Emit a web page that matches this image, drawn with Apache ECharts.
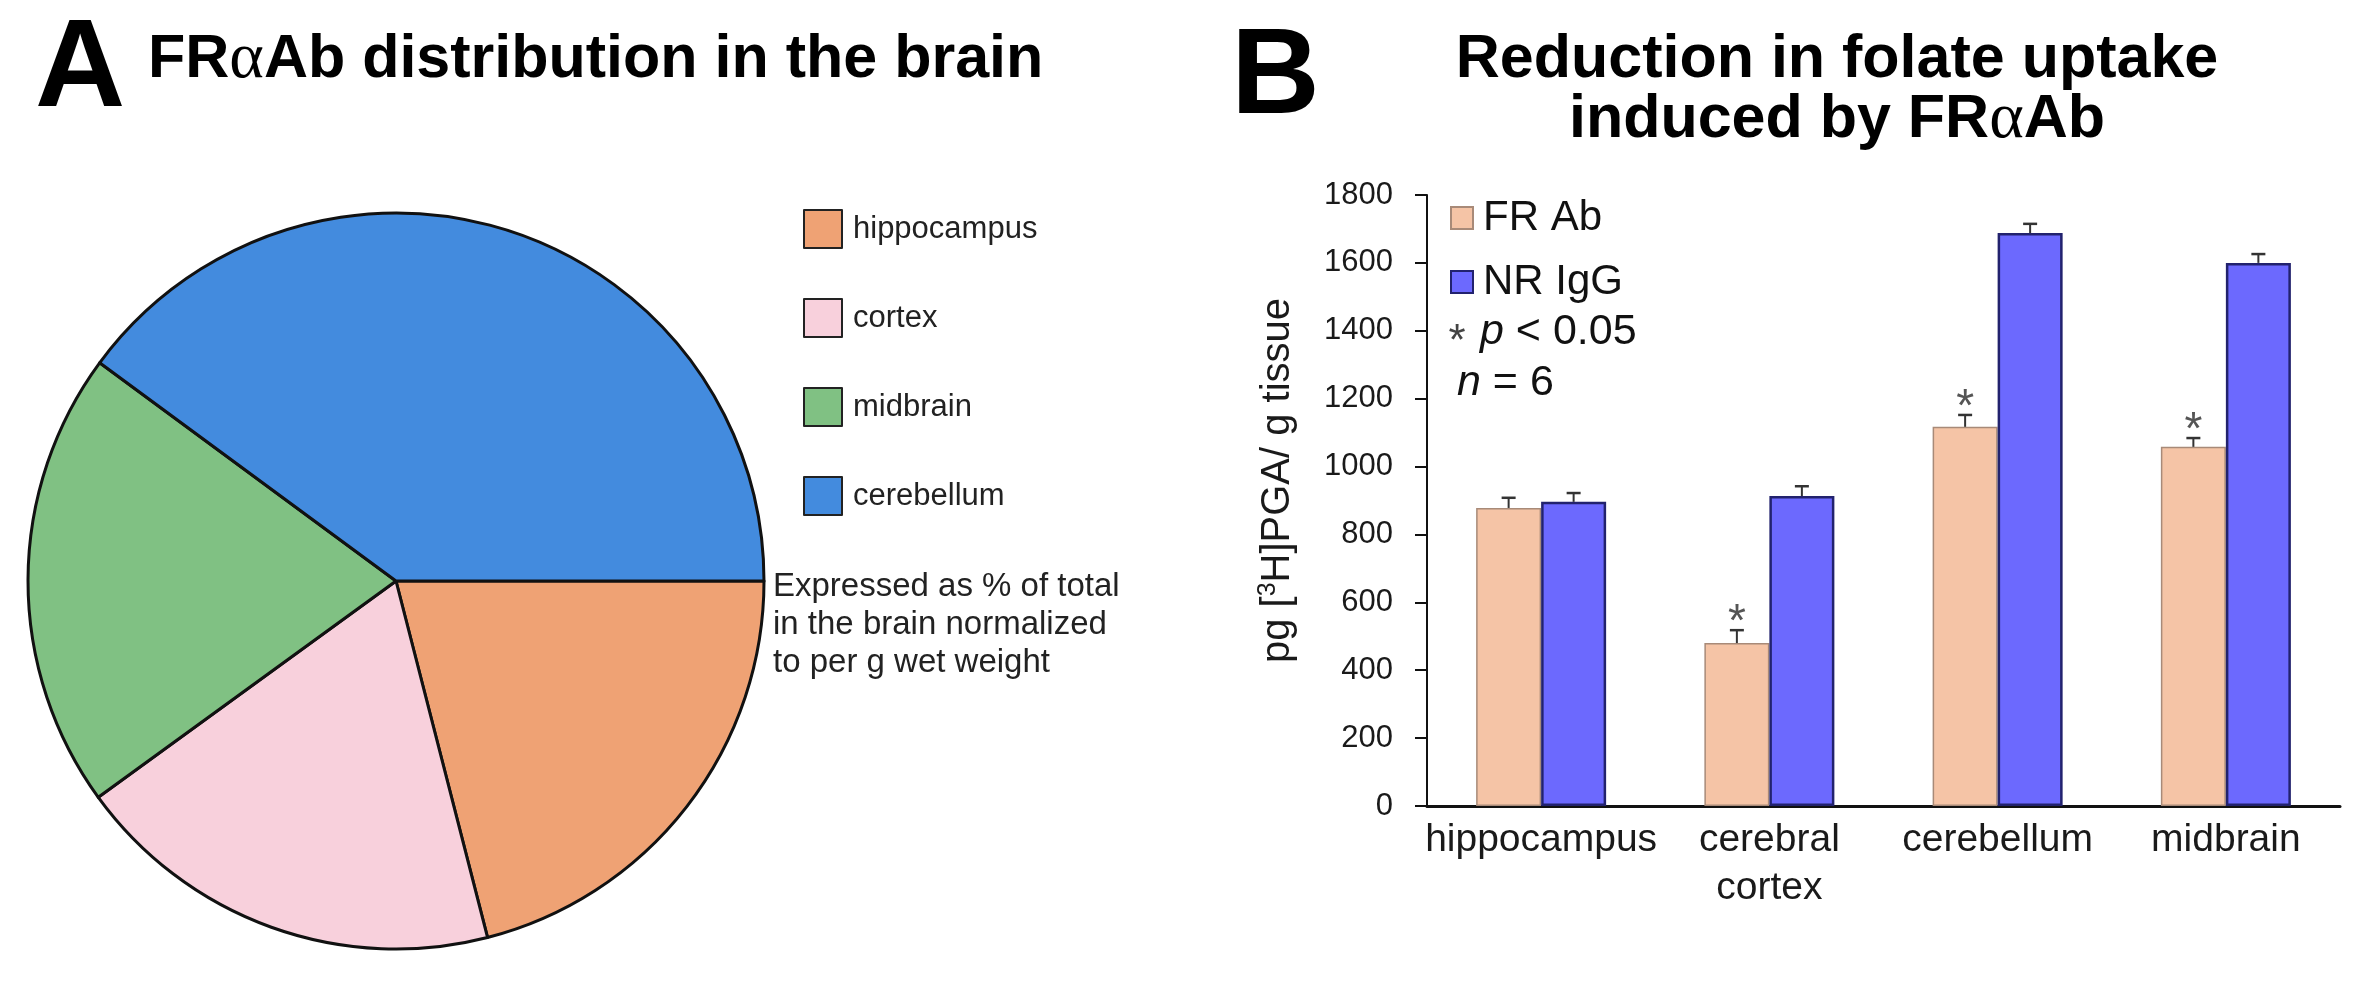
<!DOCTYPE html>
<html><head><meta charset="utf-8">
<script src="https://cdn.jsdelivr.net/npm/echarts@6/dist/echarts.min.js"></script>
<style>html,body{margin:0;padding:0;background:#fff}#c{width:2365px;height:981px}</style>
</head><body><div id="c"></div>
<script>
// ---- Panel A data (pie) ----
const pieNames = ['hippocampus', 'cortex', 'midbrain', 'cerebellum'];
const pieValues = [21.0, 19.0, 20.1, 39.9];
const pieColors = ['#EFA274', '#F8D0DC', '#80C183', '#438BDE'];

// ---- Panel B data (bars) ----
const categories = ['hippocampus', 'cerebral\ncortex', 'cerebellum', 'midbrain'];
const seriesNames = ['FR Ab', 'NR IgG'];
const frAb = [878, 480, 1117, 1058];
const nrIgG = [896, 913, 1688, 1600];
const frErr = [30, 38, 35, 26];
const nrErr = [26, 29, 27, 26];
const significant = [false, true, true, true];
const yMin = 0, yMax = 1800, yInterval = 200;

const FONT = '"Liberation Sans", Arial, Helvetica, sans-serif';
const SERIF = '"Liberation Serif", "Times New Roman", serif';
const BAR_W = 65;

const chart = echarts.init(document.getElementById('c'), null, {renderer: 'canvas'});

function errRender(offset) {
  return function (params, api) {
    const i = api.value(0), v = api.value(1), e = api.value(2), s = api.value(3);
    const base = api.coord([i, v]);
    const top = api.coord([i, v + e]);
    const x = base[0] + offset;
    const children = [
      {type: 'line', shape: {x1: x, y1: base[1], x2: x, y2: top[1]}, style: {stroke: '#333', lineWidth: 2}},
      {type: 'line', shape: {x1: x - 7, y1: top[1], x2: x + 7, y2: top[1]}, style: {stroke: '#333', lineWidth: 2.5}}
    ];
    if (s) {
      children.push({type: 'text', style: {text: '*', x: x, y: top[1] - 7, fontSize: 46, fontFamily: FONT,
        fill: '#555', align: 'center', verticalAlign: 'middle'}});
    }
    return {type: 'group', children: children};
  };
}

const option = {
  backgroundColor: '#ffffff',
  animation: false,
  textStyle: {fontFamily: FONT},
  legend: [
    {
      data: pieNames, orient: 'vertical', left: 798, top: 204,
      itemWidth: 38, itemHeight: 38, itemGap: 49, icon: 'rect', selectedMode: false,
      itemStyle: {borderWidth: 2, borderColor: '#222'},
      textStyle: {fontSize: 31, color: '#222', fontFamily: FONT, padding: [0, 0, 0, 6]}
    },
    {
      data: seriesNames, orient: 'vertical', left: 1445, top: 192,
      itemWidth: 22, itemHeight: 22, itemGap: 22, icon: 'rect', selectedMode: false,
      textStyle: {fontSize: 42, lineHeight: 42, color: '#111', fontFamily: FONT, padding: [0, 0, 0, 5]}
    }
  ],
  grid: {left: 1427, right: 25, top: 195, bottom: 175},
  xAxis: {
    type: 'category', data: categories,
    axisLine: {lineStyle: {color: '#111', width: 3}},
    axisTick: {show: false},
    axisLabel: {interval: 0, fontSize: 39, lineHeight: 48, margin: 10, color: '#1a1a1a', fontFamily: FONT}
  },
  yAxis: {
    type: 'value', min: yMin, max: yMax, interval: yInterval,
    axisLine: {show: true, lineStyle: {color: '#111', width: 2}},
    axisTick: {show: true, inside: false, length: 12, lineStyle: {color: '#111', width: 2}},
    splitLine: {show: false},
    axisLabel: {fontSize: 31, margin: 34, color: '#1a1a1a', fontFamily: FONT, formatter: v => String(v)},
    name: 'pg [{sup|3}H]PGA/ g tissue',
    nameLocation: 'middle', nameGap: 127, nameRotate: 90,
    nameTextStyle: {fontSize: 40, lineHeight: 44, color: '#1a1a1a', fontFamily: FONT, padding: [0, 0, 0, 40],
      rich: {sup: {fontSize: 25, verticalAlign: 'top', fontFamily: FONT, color: '#1a1a1a'}}}
  },
  series: [
    {
      type: 'pie', center: [396, 581], radius: 368, startAngle: 0, clockwise: true,
      silent: true, label: {show: false}, labelLine: {show: false},
      emphasis: {disabled: true},
      itemStyle: {borderColor: '#111', borderWidth: 3},
      data: pieNames.map((n, i) => ({name: n, value: pieValues[i], itemStyle: {color: pieColors[i]}}))
    },
    {
      name: seriesNames[0], type: 'bar', data: frAb, barWidth: BAR_W, barGap: '0%', silent: true,
      itemStyle: {color: '#F5C4A6', borderColor: '#A88A78', borderWidth: 1.5}
    },
    {
      name: seriesNames[1], type: 'bar', data: nrIgG, barWidth: BAR_W, barGap: '0%', silent: true,
      itemStyle: {color: '#6C69FE', borderColor: '#22226E', borderWidth: 2.5}
    },
    {
      type: 'custom', renderItem: errRender(-BAR_W / 2), z: 10, silent: true,
      encode: {x: 0, y: 1},
      data: categories.map((c, i) => [i, frAb[i], frErr[i], significant[i] ? 1 : 0])
    },
    {
      type: 'custom', renderItem: errRender(BAR_W / 2), z: 10, silent: true,
      encode: {x: 0, y: 1},
      data: categories.map((c, i) => [i, nrIgG[i], nrErr[i], 0])
    }
  ],
  graphic: [
    {type: 'text', position: [35, 72], z: 100, style: {text: 'A', fontSize: 125, fontWeight: 'bold', fontFamily: FONT, fill: '#000', verticalAlign: 'middle'}},
    {type: 'text', position: [148, 60], z: 100, style: {
      text: 'FR{a|α}Ab distribution in the brain', fontSize: 61, fontWeight: 'bold', fontFamily: FONT, fill: '#000',
      verticalAlign: 'middle', rich: {a: {fontFamily: SERIF, fontWeight: 'normal', fontSize: 66, fill: '#000'}}}},
    {type: 'text', position: [1231, 79], z: 100, style: {text: 'B', fontSize: 123, fontWeight: 'bold', fontFamily: FONT, fill: '#000', verticalAlign: 'middle'}},
    {type: 'text', position: [1837, 60], z: 100, style: {text: 'Reduction in folate uptake', fontSize: 61, fontWeight: 'bold', fontFamily: FONT, fill: '#000', align: 'center', verticalAlign: 'middle'}},
    {type: 'text', position: [1837, 120], z: 100, style: {
      text: 'induced by FR{a|α}Ab', fontSize: 61, fontWeight: 'bold', fontFamily: FONT, fill: '#000',
      align: 'center', verticalAlign: 'middle', rich: {a: {fontFamily: SERIF, fontWeight: 'normal', fontSize: 66, fill: '#000'}}}},
    {type: 'text', position: [773, 568], z: 100, style: {
      text: 'Expressed as % of total\nin the brain normalized\nto per g wet weight',
      fontSize: 33, lineHeight: 38, fontFamily: FONT, fill: '#222', verticalAlign: 'top'}},
    {type: 'text', position: [1457, 343], z: 100, style: {
      text: '*', fontSize: 44, fontFamily: FONT, fill: '#444', align: 'center', verticalAlign: 'middle'}},
    {type: 'text', position: [1480, 332], z: 100, style: {
      text: '{i|p} < 0.05', fontSize: 43, fontFamily: FONT, fill: '#111', verticalAlign: 'middle',
      rich: {i: {fontStyle: 'italic', fontSize: 43, fontFamily: FONT, fill: '#111'}}}},
    {type: 'text', position: [1457, 383], z: 100, style: {
      text: '{i|n} = 6', fontSize: 43, fontFamily: FONT, fill: '#111', verticalAlign: 'middle',
      rich: {i: {fontStyle: 'italic', fontSize: 43, fontFamily: FONT, fill: '#111'}}}}
  ]
};
chart.setOption(option);
</script>
</body></html>
